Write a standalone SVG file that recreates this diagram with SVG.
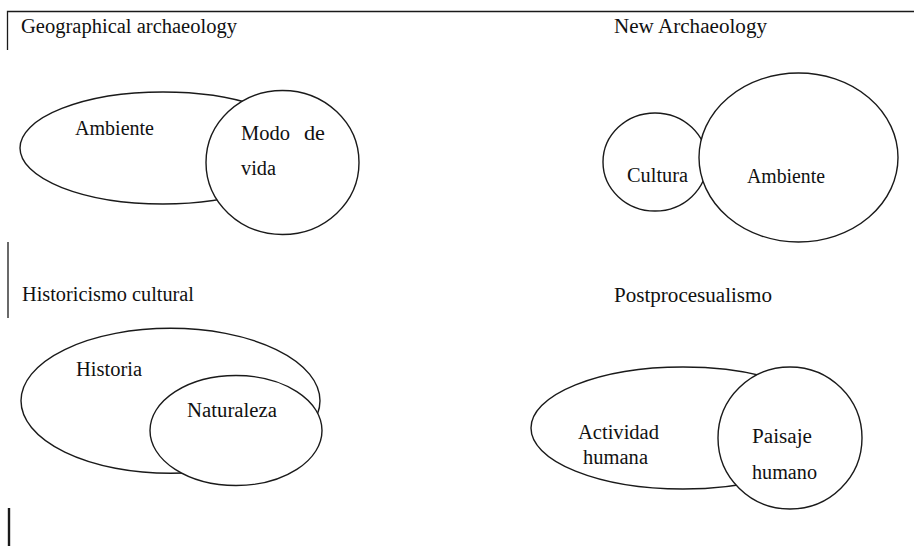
<svg xmlns="http://www.w3.org/2000/svg" width="914" height="546" viewBox="0 0 914 546">
<style>
.bg{fill:#ffffff}
.shape{fill:none;stroke:#1a1a1a;stroke-width:1.4}
.top{fill:#ffffff;stroke:#1a1a1a;stroke-width:1.4}
.frame{stroke:#1a1a1a;stroke-width:1.3;fill:none}
.t{font-size:20.5px;fill:#111111}
</style>
<rect class="bg" x="0" y="0" width="914" height="546"/>
<g id="frame">
<path class="frame" d="M7.5 50 V11.5 H914"/>
<path class="frame" d="M8 242 V318"/>
<path class="frame" d="M9 508 V546" style="stroke-width:2.4"/>
</g>
<g id="titles" font-family="Liberation Serif, DejaVu Serif, serif">
<text class="t" x="21" y="33" textLength="216" lengthAdjust="spacingAndGlyphs">Geographical archaeology</text>
<text class="t" x="614" y="33" textLength="153" lengthAdjust="spacingAndGlyphs">New Archaeology</text>
<text class="t" x="22" y="301" textLength="172" lengthAdjust="spacingAndGlyphs">Historicismo cultural</text>
<text class="t" x="614" y="302" textLength="158" lengthAdjust="spacingAndGlyphs">Postprocesualismo</text>
</g>
<g id="geo-ambiente" font-family="Liberation Serif, DejaVu Serif, serif">
<ellipse class="shape" cx="163" cy="148" rx="143" ry="56"/>
<text class="t" x="75" y="135" textLength="79" lengthAdjust="spacingAndGlyphs">Ambiente</text>
</g>
<g id="geo-modo-de-vida" font-family="Liberation Serif, DejaVu Serif, serif">
<ellipse class="top" cx="282.5" cy="162.5" rx="76.5" ry="72"/>
<text class="t" y="140"><tspan x="241" textLength="49" lengthAdjust="spacingAndGlyphs">Modo</tspan> <tspan x="304" textLength="21" lengthAdjust="spacingAndGlyphs">de</tspan></text>
<text class="t" x="241" y="175" textLength="35" lengthAdjust="spacingAndGlyphs">vida</text>
</g>
<g id="new-cultura" font-family="Liberation Serif, DejaVu Serif, serif">
<ellipse class="shape" cx="655" cy="162" rx="52" ry="49"/>
<text class="t" x="627" y="182" textLength="61" lengthAdjust="spacingAndGlyphs">Cultura</text>
</g>
<g id="new-ambiente" font-family="Liberation Serif, DejaVu Serif, serif">
<ellipse class="top" cx="798.5" cy="157.5" rx="99.5" ry="84.5"/>
<text class="t" x="747" y="183" textLength="78" lengthAdjust="spacingAndGlyphs">Ambiente</text>
</g>
<g id="hist-historia" font-family="Liberation Serif, DejaVu Serif, serif">
<ellipse class="shape" cx="170.5" cy="400.8" rx="149.5" ry="72.5"/>
<text class="t" x="76" y="376" textLength="66" lengthAdjust="spacingAndGlyphs">Historia</text>
</g>
<g id="hist-naturaleza" font-family="Liberation Serif, DejaVu Serif, serif">
<ellipse class="top" cx="236" cy="430.5" rx="86" ry="55"/>
<text class="t" x="187" y="417" textLength="90" lengthAdjust="spacingAndGlyphs">Naturaleza</text>
</g>
<g id="post-actividad" font-family="Liberation Serif, DejaVu Serif, serif">
<ellipse class="shape" cx="683" cy="428" rx="152" ry="61"/>
<text class="t" x="578" y="439" textLength="81" lengthAdjust="spacingAndGlyphs">Actividad</text>
<text class="t" x="583" y="464" textLength="65" lengthAdjust="spacingAndGlyphs">humana</text>
</g>
<g id="post-paisaje" font-family="Liberation Serif, DejaVu Serif, serif">
<ellipse class="top" cx="790" cy="438" rx="72" ry="71"/>
<text class="t" x="752" y="443" textLength="60" lengthAdjust="spacingAndGlyphs">Paisaje</text>
<text class="t" x="752" y="479" textLength="65" lengthAdjust="spacingAndGlyphs">humano</text>
</g>
</svg>
